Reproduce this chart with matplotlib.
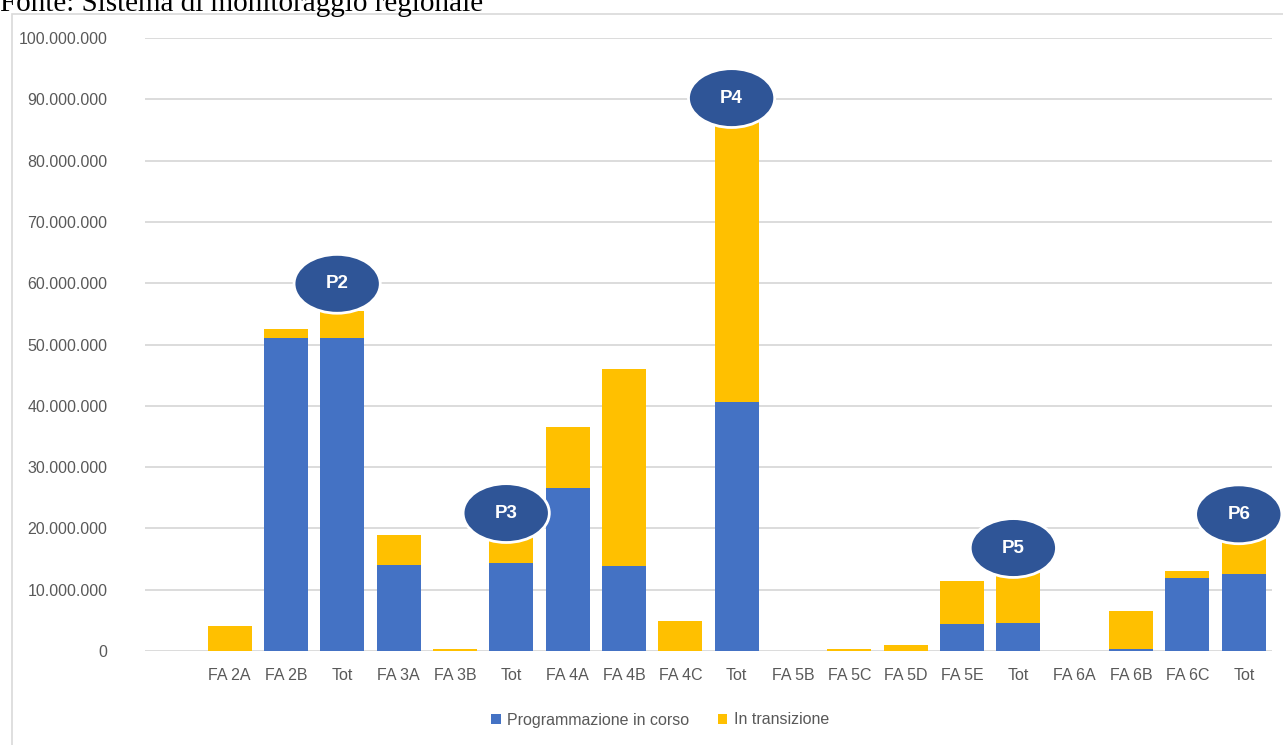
import matplotlib.pyplot as plt
from matplotlib.patches import Ellipse, Rectangle
from matplotlib.ticker import FuncFormatter

# Data (euro)
categories = ['FA 2A', 'FA 2B', 'Tot', 'FA 3A', 'FA 3B', 'Tot', 'FA 4A', 'FA 4B', 'FA 4C', 'Tot',
              'FA 5B', 'FA 5C', 'FA 5D', 'FA 5E', 'Tot', 'FA 6A', 'FA 6B', 'FA 6C', 'Tot']
programmazione = [0, 51.1e6, 51.1e6, 14.0e6, 0, 14.4e6, 26.6e6, 13.9e6, 0, 40.6e6,
                  0, 0, 0, 4.4e6, 4.6e6, 0, 0.4e6, 11.9e6, 12.5e6]
transizione = [4.1e6, 1.4e6, 4.4e6, 4.9e6, 0.4e6, 5.0e6, 9.9e6, 32.1e6, 4.9e6, 46.9e6,
               0, 0.4e6, 0.9e6, 7.0e6, 8.3e6, 0, 6.1e6, 1.1e6, 7.2e6]

# priority bubbles: label, category index, y centre
bubble_labels = ['P2', 'P3', 'P4', 'P5', 'P6']
bubble_idx = [2, 5, 9, 14, 18]
bubble_y = [59.9e6, 22.5e6, 90.2e6, 16.8e6, 22.3e6]

blue = '#4472C4'
yellow = '#FFC000'
dark = '#2F5597'
grey = '#595959'
font = 'Liberation Sans'

fig = plt.figure(figsize=(12.83, 7.45), dpi=100)
ax = fig.add_axes([145 / 1283, 1 - 651 / 745, (1272 - 145) / 1283, (651 - 38) / 745])

x = list(range(len(categories)))
ax.bar(x, programmazione, width=0.78, color=blue, label='Programmazione in corso', zorder=2)
ax.bar(x, transizione, width=0.78, bottom=programmazione, color=yellow, label='In transizione', zorder=2)

for lab, i, yc in zip(bubble_labels, bubble_idx, bubble_y):
    e = Ellipse((i - 0.09, yc), width=1.53, height=9.6e6, facecolor=dark,
                edgecolor='white', linewidth=2, zorder=5, clip_on=False)
    ax.add_patch(e)
    ax.text(i - 0.09, yc, lab, color='white', fontsize=13.5, fontweight='bold',
            ha='center', va='center', zorder=6, family=font)

ax.set_xlim(-1.5, 18.5)
ax.set_ylim(0, 100e6)
ax.set_yticks([i * 10e6 for i in range(11)])
ax.yaxis.set_major_formatter(FuncFormatter(lambda v, p: f'{int(v):,}'.replace(',', '.')))
ax.set_xticks(x)
ax.set_xticklabels(categories)
ax.grid(axis='y', color='#d9d9d9', linewidth=1.3, zorder=0)
ax.set_axisbelow(True)
for s in ax.spines.values():
    s.set_visible(False)
ax.tick_params(axis='both', length=0, colors=grey, labelsize=11.5)
ax.tick_params(axis='y', pad=27)
ax.tick_params(axis='x', pad=12)
for t in ax.get_xticklabels() + ax.get_yticklabels():
    t.set_family(font)

leg = fig.legend(loc='center', bbox_to_anchor=(660 / 1283, 1 - 720 / 745), ncol=2, frameon=False,
                 handlelength=0.6, handleheight=0.6, handletextpad=0.4, columnspacing=1.8,
                 prop={'family': font, 'size': 11.5})
for t in leg.get_texts():
    t.set_color(grey)

# chart border and source line
fig.add_artist(Rectangle((12 / 1283, -0.1), 1.2, 1 - 14 / 745 + 0.1, transform=fig.transFigure,
                         fill=False, edgecolor='#d9d9d9', linewidth=1.2))
fig.text(0, 1 - 4 / 745, 'Fonte: Sistema di monitoraggio regionale', family='Liberation Serif',
         fontsize=21, color='black', ha='left', va='center')

fig.savefig('out.png', dpi=100)
